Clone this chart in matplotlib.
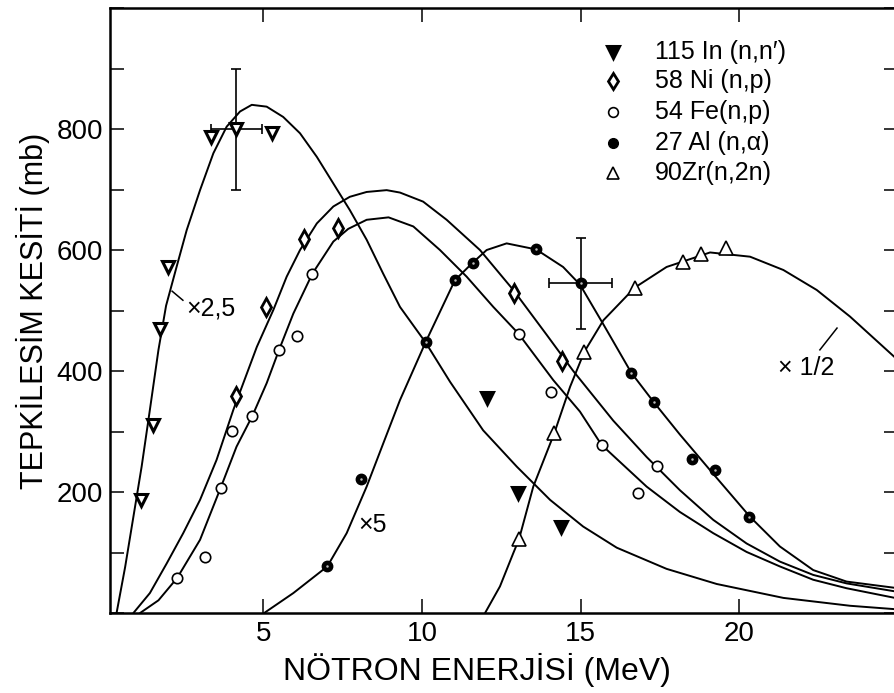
"""
Neutron reaction cross sections vs neutron energy

Recreated chart: five threshold reactions with measured points and fitted curves.
"""

import matplotlib
matplotlib.use('Agg')
import matplotlib.pyplot as plt
from matplotlib.ticker import FixedLocator, MultipleLocator

plt.rcParams['font.family'] = ['Liberation Sans', 'DejaVu Sans']

# ---- measured points (energy in MeV, cross section in mb) ----
in_e = [1.14, 1.54, 1.75, 1.99, 3.36, 4.15, 5.27, 12.05, 13.04, 14.38]
in_s = [187, 311, 470, 572, 787, 800, 794, 355, 198, 143]

ni_e = [4.13, 5.08, 6.29, 7.37, 12.9, 14.4]
ni_s = [358, 506, 618, 636, 529, 417]

fe_e = [2.29, 3.17, 3.66, 4.03, 4.66, 5.50, 6.08, 6.55, 13.06, 14.06, 15.68, 16.82, 17.42]
fe_s = [58, 92, 207, 301, 326, 435, 458, 561, 461, 366, 277, 199, 243]

al_e = [7.02, 8.07, 10.12, 11.04, 11.6, 13.6, 15.0, 16.6, 17.3, 18.5, 19.23, 20.3]
al_s = [77, 221, 448, 550, 579, 602, 545, 397, 349, 254, 237, 158]

zr_e = [13.06, 14.17, 15.12, 16.71, 18.24, 18.78, 19.58]
zr_s = [122, 297, 432, 538, 580, 594, 603]

# error bars on two of the points
in_err_e, in_err_s, in_err_x, in_err_y = 4.15, 800, 0.8, 100
al_err_e, al_err_s, al_err_x, al_err_y = 15.0, 545, 1.0, 75

# ---- fitted curves ----
in_curve_e = [0.38, 0.65, 0.91, 1.17, 1.43, 1.70, 1.94, 2.27, 2.59, 3.01, 3.43, 3.85, 4.27,
              4.64, 5.11, 5.63, 6.16, 6.69, 7.21, 7.73, 8.26, 8.78, 9.31, 10.12, 10.89,
              11.93, 12.99, 14.04, 15.08, 16.14, 17.71, 19.29, 21.39, 23.49, 25.0]
in_curve_s = [0, 76, 159, 242, 336, 435, 508, 572, 633, 699, 760, 804, 829,
              840, 837, 820, 793, 754, 710, 666, 617, 561, 506, 447, 382,
              302, 242, 187, 143, 108, 73, 48, 25, 12, 6]

ni_curve_e = [0.91, 1.43, 1.96, 2.48, 3.01, 3.53, 4.06, 4.80, 5.32, 5.74, 6.16, 6.69, 7.21,
              7.73, 8.26, 8.89, 9.31, 10.04, 10.78, 11.83, 12.88, 13.93, 14.77, 16.03,
              17.08, 18.13, 19.18, 20.23, 21.28, 22.33, 23.38, 25.0]
ni_curve_s = [0, 33, 82, 132, 187, 253, 336, 440, 501, 556, 600, 644, 672,
              688, 696, 699, 695, 680, 650, 600, 534, 460, 400, 318,
              258, 203, 154, 115, 85, 63, 49, 35]

fe_curve_e = [1.12, 1.70, 2.29, 3.01, 3.66, 4.16, 4.66, 5.11, 5.50, 5.95, 6.55, 7.21, 7.68,
              8.26, 8.95, 9.73, 10.57, 11.41, 12.25, 13.04, 14.14, 14.98, 15.66, 17.08,
              18.13, 19.18, 20.23, 21.28, 22.33, 23.38, 25.0]
fe_curve_s = [0, 21, 58, 121, 207, 275, 326, 380, 435, 495, 561, 614, 635,
              650, 654, 639, 600, 556, 506, 462, 385, 333, 278, 209,
              167, 132, 101, 77, 55, 41, 24]

al_curve_e = [5.03, 5.95, 7.02, 7.63, 8.26, 8.78, 9.31, 10.12, 11.04, 11.58, 12.04, 12.67,
              13.6, 14.45, 14.98, 15.72, 16.6, 17.3, 18.13, 19.18, 20.34, 21.28, 22.33,
              23.38, 25.0]
al_curve_s = [0, 33, 77, 132, 209, 280, 352, 448, 550, 578, 600, 611,
              601, 572, 543, 477, 397, 349, 295, 230, 159, 110, 71,
              52, 41]

zr_curve_e = [11.99, 12.46, 12.88, 13.06, 13.51, 14.17, 14.67, 15.12, 15.72, 16.71, 17.71,
              19.08, 20.34, 21.39, 22.44, 23.49, 25.0]
zr_curve_s = [0, 44, 99, 122, 209, 297, 374, 432, 484, 538, 572,
              596, 589, 567, 534, 490, 418]

legend_labels = ["115 In (n,n′)", "58 Ni (n,p)", "54 Fe(n,p)", "27 Al (n,α)", "90Zr(n,2n)"]

x_ticks = [5, 10, 15, 20]
y_labeled_ticks = [200, 400, 600, 800]

# ---- figure ----
fig = plt.figure(figsize=(8.95, 6.93), dpi=100)
ax = fig.add_axes([0.1229, 0.1154, 0.8804, 0.8730])

line_kw = dict(color='black', lw=1.4, solid_joinstyle='round', solid_capstyle='round')
for ce, cs in [(in_curve_e, in_curve_s), (ni_curve_e, ni_curve_s), (fe_curve_e, fe_curve_s),
               (al_curve_e, al_curve_s), (zr_curve_e, zr_curve_s)]:
    ax.plot(ce, cs, **line_kw)

# error bars
ax.errorbar([in_err_e], [in_err_s], xerr=[in_err_x], yerr=[in_err_y], fmt='none',
            ecolor='black', elinewidth=1.2, capsize=3.5, capthick=1.2)
ax.errorbar([al_err_e], [al_err_s], xerr=[al_err_x], yerr=[al_err_y], fmt='none',
            ecolor='black', elinewidth=1.2, capsize=3.5, capthick=1.2)

# marker styles
styles = {
    'in': dict(marker='v', ms=9, mfc='white', mec='black', mew=2.2),
    'ni': dict(marker='d', ms=9, mfc='white', mec='black', mew=2.0),
    'fe': dict(marker='o', ms=7.5, mfc='white', mec='black', mew=1.2),
    'al': dict(marker='o', ms=7.5, mfc='black', mec='black', mew=1.0),
    'zr': dict(marker='^', ms=10, mfc='white', mec='black', mew=1.2),
}

# In: low energy points drawn open, high energy points solid
in_lo = [(e, s) for e, s in zip(in_e, in_s) if e < 10]
in_hi = [(e, s) for e, s in zip(in_e, in_s) if e >= 10]
ax.plot([p[0] for p in in_lo], [p[1] for p in in_lo], ls='none', zorder=3, **styles['in'])
ax.plot([p[0] for p in in_hi], [p[1] for p in in_hi], ls='none', zorder=3,
        **{**styles['in'], 'mfc': 'black'})
ax.plot(ni_e, ni_s, ls='none', zorder=3, **styles['ni'])
ax.plot(fe_e, fe_s, ls='none', zorder=3, **styles['fe'])
ax.plot(al_e, al_s, ls='none', zorder=3, **styles['al'])
ax.plot(al_e, al_s, ls='none', marker='o', ms=1.8, mfc='#bbbbbb', mec='none', zorder=4)
ax.plot(zr_e, zr_s, ls='none', zorder=3, **styles['zr'])

# scale factor notes
ax.plot([2.13, 2.47], [532, 517], color='black', lw=1.1)
ax.text(2.57, 504, '×2,5', fontsize=18, ha='left', va='center')
ax.text(8.43, 145, '×5', fontsize=18, ha='center', va='center')
ax.plot([22.54, 23.08], [435, 471], color='black', lw=1.1)
ax.text(22.1, 405, '× 1/2', fontsize=18, ha='center', va='center')

# legend drawn by hand
leg_y = [0.927, 0.879, 0.828, 0.777, 0.727]
leg_styles = [{**styles['in'], 'mfc': 'black', 'ms': 8}, {**styles['ni'], 'ms': 8},
              {**styles['fe'], 'ms': 7}, {**styles['al'], 'ms': 7}, {**styles['zr'], 'ms': 9}]
for y, lab, st in zip(leg_y, legend_labels, leg_styles):
    ax.plot([0.638], [y], transform=ax.transAxes, ls='none', **st)
    ax.text(0.692, y, lab, transform=ax.transAxes, fontsize=18, ha='left', va='center')

# axes styling
ax.set_xlim(0.173, 25.0)
ax.set_ylim(0, 1000)
ax.xaxis.set_major_locator(FixedLocator(x_ticks))
ax.yaxis.set_major_locator(FixedLocator(y_labeled_ticks))
ax.yaxis.set_minor_locator(MultipleLocator(100))
ax.tick_params(which='both', direction='in', length=10, width=1.1,
               top=True, right=True, labelsize=20)
ax.tick_params(axis='x', pad=6)
ax.tick_params(axis='y', pad=5)
for sp in ax.spines.values():
    sp.set_linewidth(1.8)

ax.set_xlabel('NÖTRON ENERJİSİ (MeV)', fontsize=23)
ax.xaxis.set_label_coords(0.466, -0.066, transform=ax.transAxes)
ax.xaxis.label.set_va('top')
ax.set_ylabel('TEPKİLESİM KESİTİ (mb)', fontsize=22, labelpad=5)

fig.savefig('out.png', dpi=100)
